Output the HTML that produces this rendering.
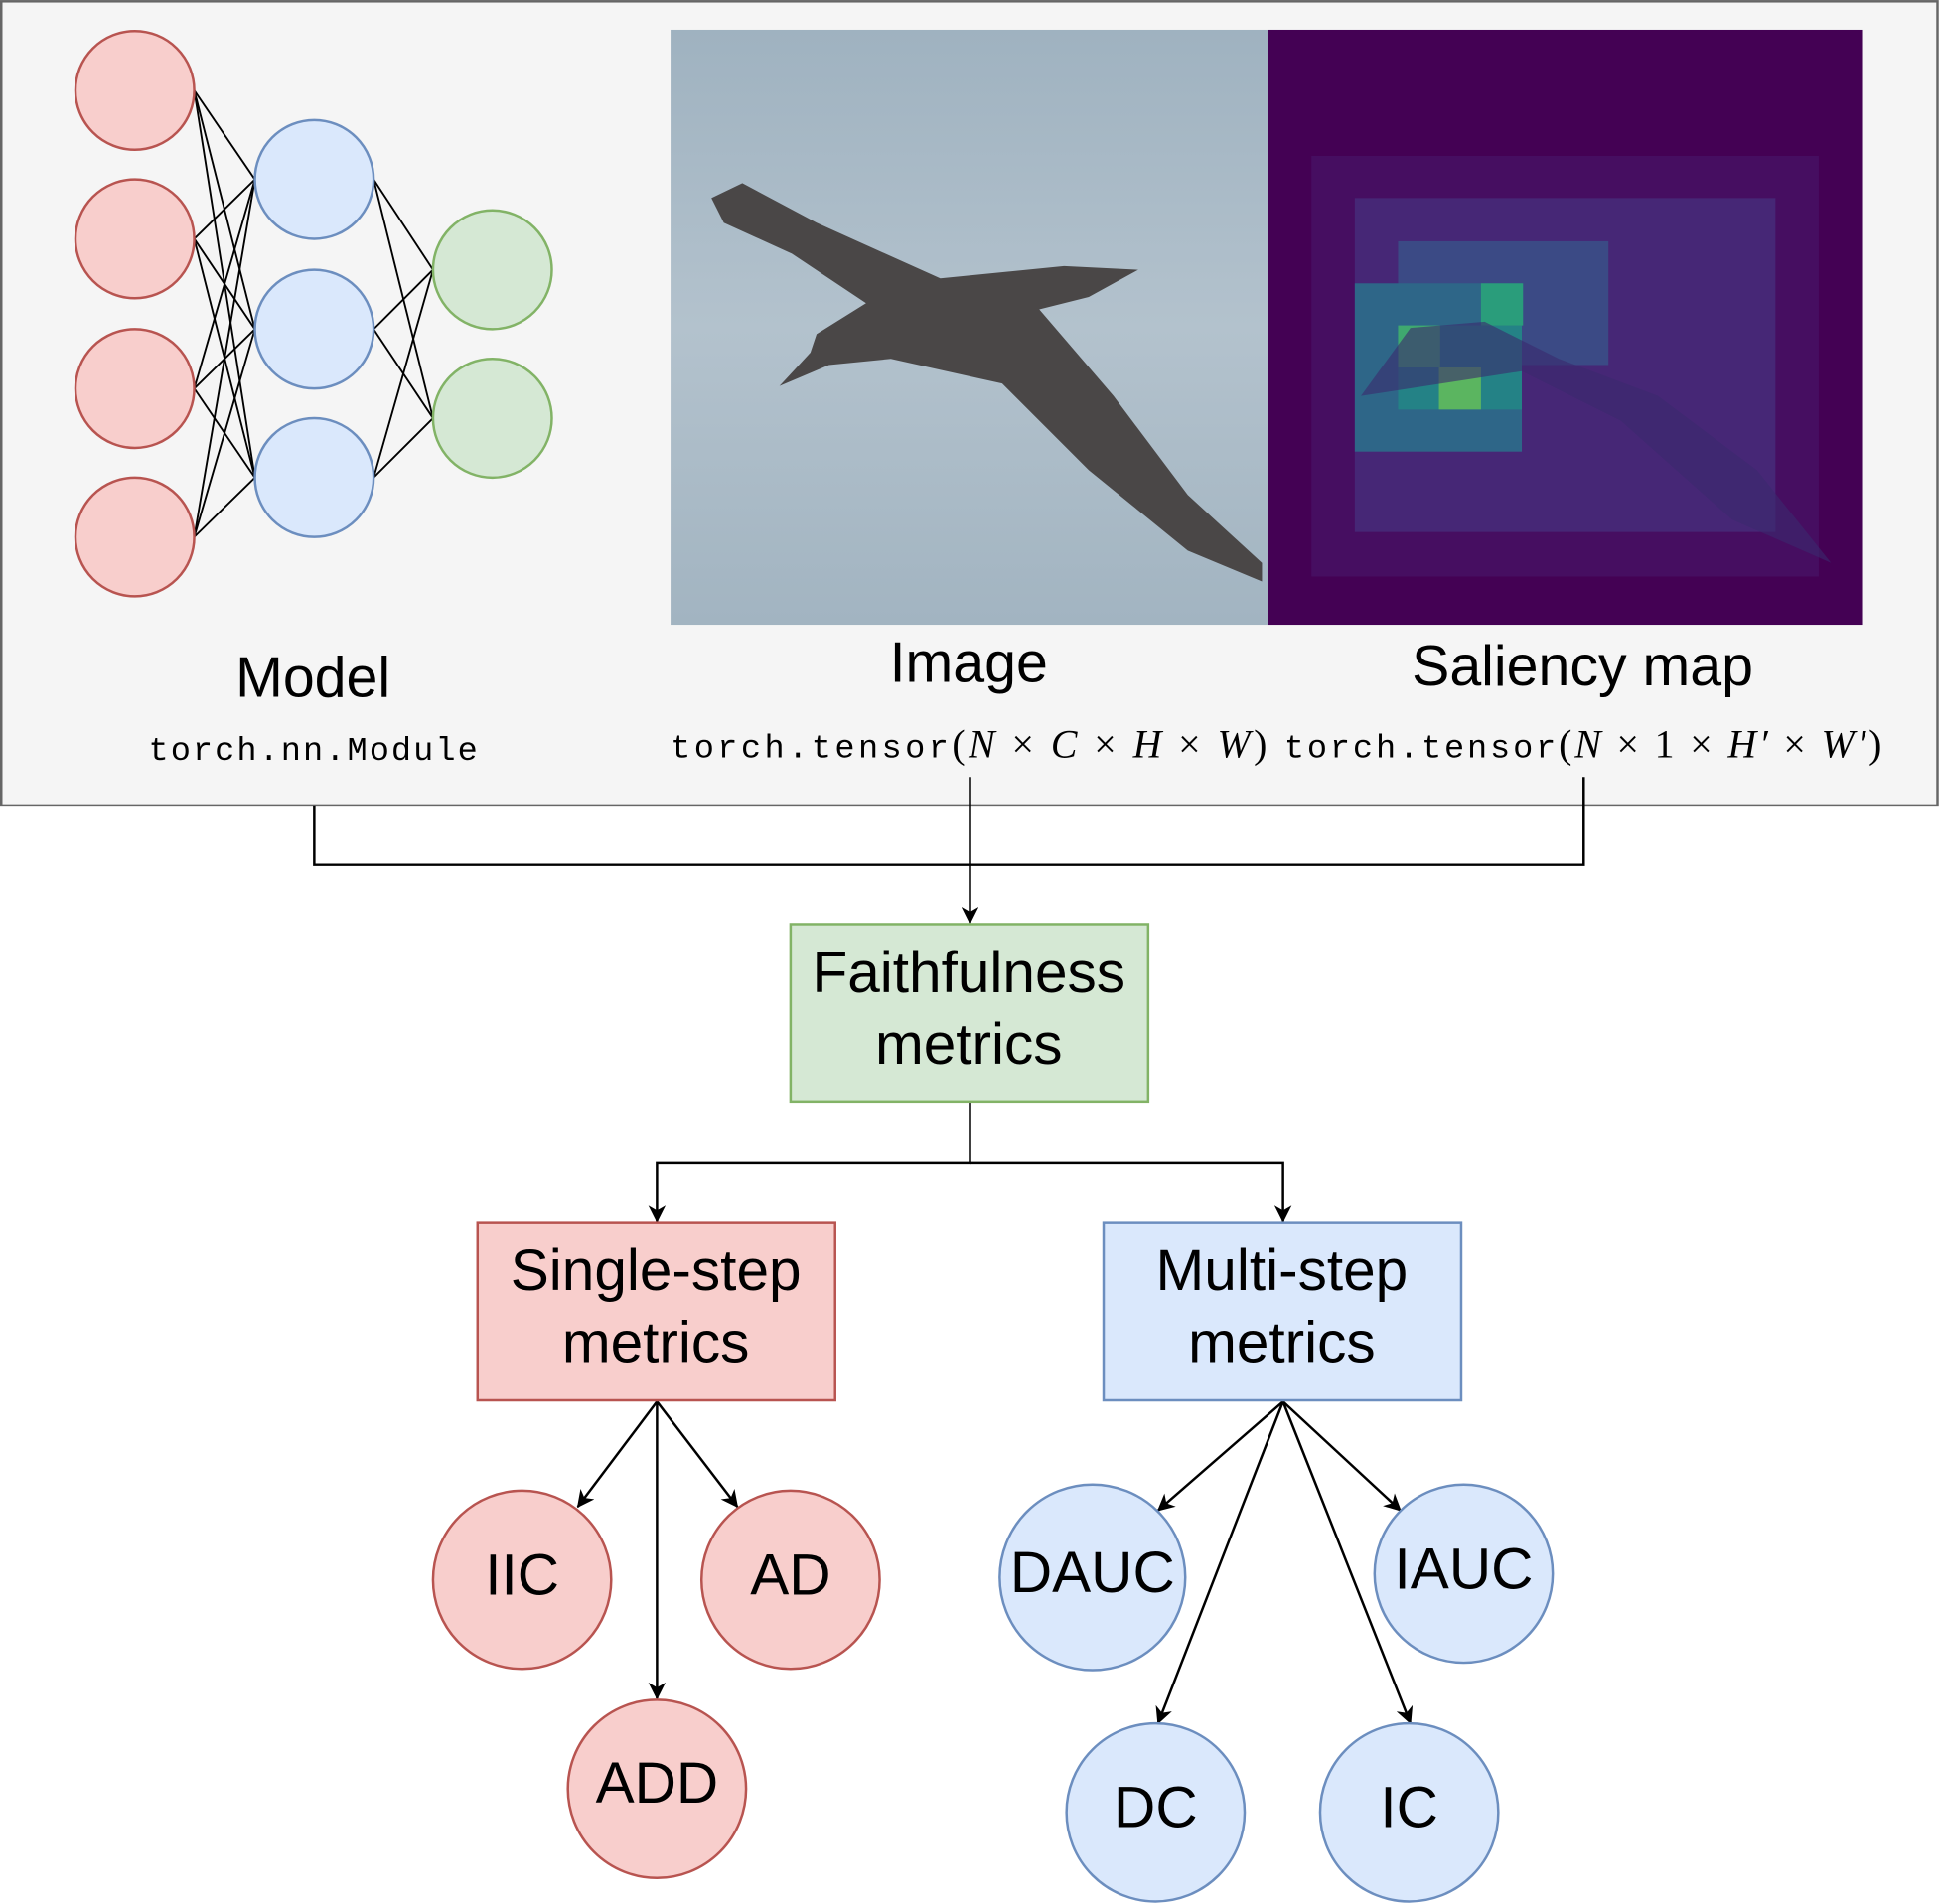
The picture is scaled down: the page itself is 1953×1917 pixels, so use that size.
<!DOCTYPE html>
<html><head><meta charset="utf-8"><style>html,body{margin:0;padding:0;background:#fff}svg{display:block}</style></head>
<body>
<svg width="1953" height="1917" viewBox="0 0 1568 1539" xmlns="http://www.w3.org/2000/svg" font-family="Liberation Sans, Arial, sans-serif">
<defs>
<marker id="a" markerWidth="14" markerHeight="14" refX="13" refY="7" orient="auto" markerUnits="userSpaceOnUse">
<path d="M0,0 L14,7 L0,14 L4,7 z" fill="#000"/></marker>
<linearGradient id="sea" x1="0" y1="0" x2="0" y2="1"><stop offset="0" stop-color="#9fb2c0"/><stop offset="0.5" stop-color="#b3c2cd"/><stop offset="1" stop-color="#a2b4c1"/></linearGradient>
</defs>
<rect x="1" y="1" width="1565" height="650" fill="#f5f5f5" stroke="#666" stroke-width="2"/>
<g stroke="#000" stroke-width="1.5">
<line x1="157" y1="73" x2="206" y2="145"/><line x1="157" y1="73" x2="206" y2="266"/><line x1="157" y1="73" x2="206" y2="386"/>
<line x1="157" y1="193" x2="206" y2="145"/><line x1="157" y1="193" x2="206" y2="266"/><line x1="157" y1="193" x2="206" y2="386"/>
<line x1="157" y1="314" x2="206" y2="145"/><line x1="157" y1="314" x2="206" y2="266"/><line x1="157" y1="314" x2="206" y2="386"/>
<line x1="157" y1="434" x2="206" y2="145"/><line x1="157" y1="434" x2="206" y2="266"/><line x1="157" y1="434" x2="206" y2="386"/>
<line x1="302" y1="145" x2="350" y2="218"/><line x1="302" y1="145" x2="350" y2="338"/>
<line x1="302" y1="266" x2="350" y2="218"/><line x1="302" y1="266" x2="350" y2="338"/>
<line x1="302" y1="386" x2="350" y2="218"/><line x1="302" y1="386" x2="350" y2="338"/>
</g>
<g fill="#f8cecc" stroke="#b85450" stroke-width="2">
<circle cx="109" cy="73" r="48"/><circle cx="109" cy="193" r="48"/><circle cx="109" cy="314" r="48"/><circle cx="109" cy="434" r="48"/></g>
<g fill="#dae8fc" stroke="#6c8ebf" stroke-width="2">
<circle cx="254" cy="145" r="48"/><circle cx="254" cy="266" r="48"/><circle cx="254" cy="386" r="48"/></g>
<g fill="#d5e8d4" stroke="#82b366" stroke-width="2">
<circle cx="398" cy="218" r="48"/><circle cx="398" cy="338" r="48"/></g>
<rect x="542" y="24" width="483" height="481" fill="url(#sea)"/>
<path d="M575,160 L600,148 L660,180 L760,225 L860,215 L920,218 L880,240 L840,250 L900,320 L960,400 L1020,455 L1020,470 L960,445 L880,380 L810,310 L720,290 L670,295 L630,312 L655,285 L660,270 L700,245 L640,205 L585,180 Z" fill="#4a4747"/>
<rect x="1025" y="24" width="480" height="481" fill="#440154"/>
<g opacity="0.9">
<rect x="1060" y="126" width="410" height="340" fill="#471063"/>
<rect x="1095" y="160" width="340" height="270" fill="#472c7a"/>
<rect x="1130" y="195" width="170" height="100" fill="#3b528b"/>
<rect x="1095" y="229" width="135" height="136" fill="#2c728e"/>
<rect x="1130" y="263" width="100" height="68" fill="#21918c"/>
<rect x="1163" y="297" width="34" height="34" fill="#5ec962"/>
<rect x="1130" y="263" width="34" height="34" fill="#3fbc73"/>
<rect x="1197" y="229" width="34" height="34" fill="#28ae80"/>
</g>
<path d="M1100,320 L1140,265 L1200,260 L1260,290 L1340,320 L1420,380 L1480,455 L1400,420 L1310,340 L1230,300 Z" fill="#3a2a6e" opacity="0.6"/>
<g font-size="46" text-anchor="middle" fill="#000">
<text x="253" y="563">Model</text>
<text x="783" y="551">Image</text>
<text x="1279" y="554">Saliency map</text>
</g>
<g font-family="Liberation Mono, monospace" font-size="27" fill="#000">
<text x="253" y="614" text-anchor="middle" textLength="266">torch.nn.Module</text>
<text x="542" y="612" textLength="482" lengthAdjust="spacing">torch.tensor<tspan font-family="Liberation Serif, serif" font-size="32">(<tspan font-style="italic">N</tspan> × <tspan font-style="italic">C</tspan> × <tspan font-style="italic">H</tspan> × <tspan font-style="italic">W</tspan>)</tspan></text>
<text x="1038" y="612" textLength="483" lengthAdjust="spacing">torch.tensor<tspan font-family="Liberation Serif, serif" font-size="32">(<tspan font-style="italic">N</tspan> × 1 × <tspan font-style="italic">H′</tspan> × <tspan font-style="italic">W′</tspan>)</tspan></text>
</g>
<g stroke="#000" stroke-width="2" fill="none">
<polyline points="254,651 254,699 1280,699 1280,628"/>
<line x1="784" y1="628" x2="784" y2="746" marker-end="url(#a)"/>
<polyline points="784,891 784,940 531,940 531,987" marker-end="url(#a)"/>
<polyline points="784,940 1037,940 1037,987" marker-end="url(#a)"/>
<line x1="531" y1="1133" x2="467" y2="1218" marker-end="url(#a)"/>
<line x1="531" y1="1133" x2="596" y2="1218" marker-end="url(#a)"/>
<line x1="531" y1="1133" x2="531" y2="1373" marker-end="url(#a)"/>
<line x1="1037" y1="1133" x2="936" y2="1221" marker-end="url(#a)"/>
<line x1="1037" y1="1133" x2="1132" y2="1221" marker-end="url(#a)"/>
<line x1="1037" y1="1133" x2="936" y2="1393" marker-end="url(#a)"/>
<line x1="1037" y1="1133" x2="1140" y2="1393" marker-end="url(#a)"/>
</g>
<rect x="639" y="747" width="289" height="144" fill="#d5e8d4" stroke="#82b366" stroke-width="2"/>
<rect x="386" y="988" width="289" height="144" fill="#f8cecc" stroke="#b85450" stroke-width="2"/>
<rect x="892" y="988" width="289" height="144" fill="#dae8fc" stroke="#6c8ebf" stroke-width="2"/>
<g fill="#f8cecc" stroke="#b85450" stroke-width="2">
<circle cx="422" cy="1277" r="72"/><circle cx="639" cy="1277" r="72"/><circle cx="531" cy="1446" r="72"/></g>
<g fill="#dae8fc" stroke="#6c8ebf" stroke-width="2">
<circle cx="883" cy="1275" r="75"/><circle cx="1183" cy="1272" r="72"/><circle cx="934" cy="1465" r="72"/><circle cx="1139" cy="1465" r="72"/></g>
<g font-size="47" text-anchor="middle" fill="#000">
<text x="783" y="802">Faithfulness</text><text x="783" y="860">metrics</text>
<text x="530" y="1043">Single-step</text><text x="530" y="1101">metrics</text>
<text x="1036" y="1043">Multi-step</text><text x="1036" y="1101">metrics</text>
<text x="422" y="1289">IIC</text><text x="639" y="1289">AD</text><text x="531" y="1457">ADD</text>
<text x="883" y="1287">DAUC</text><text x="1183" y="1284">IAUC</text><text x="934" y="1477">DC</text><text x="1139" y="1477">IC</text>
</g>
</svg>
</body></html>
